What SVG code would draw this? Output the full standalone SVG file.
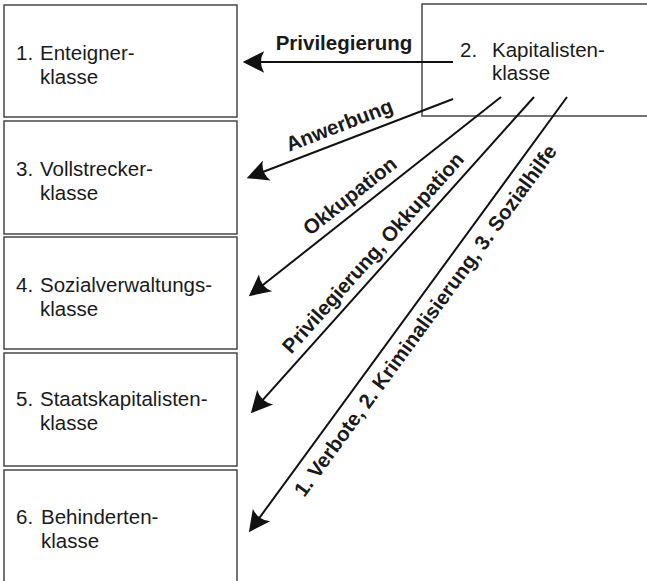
<svg xmlns="http://www.w3.org/2000/svg" width="647" height="581" viewBox="0 0 647 581">
<style>
.box{fill:#fff;stroke:#3a3a3a;stroke-width:1.4}
.t{font-family:"Liberation Sans",Arial,sans-serif;font-size:20.5px;fill:#1a1a1a}
.lbl{font-family:"Liberation Sans",Arial,sans-serif;font-size:20.5px;font-weight:bold;fill:#1a1a1a;text-anchor:middle}
.arr{fill:none;stroke:#111;stroke-width:2;marker-end:url(#ah)}
</style>
<defs>
<marker id="ah" markerUnits="userSpaceOnUse" orient="auto" refX="0" refY="0" markerWidth="30" markerHeight="30" viewBox="-20 -12 28 24" overflow="visible">
<path d="M4,0 L-16,-10 Q-10,0 -16,10 Z" fill="#111"/>
</marker>
</defs>
<rect width="647" height="581" fill="#fff"/>
<g id="n1"><rect class="box" x="4" y="5" width="233" height="112"/><text class="t" x="16" y="60">1.</text><text class="t" x="40" y="60">Enteigner-</text><text class="t" x="40" y="84">klasse</text></g>
<g id="n2"><rect class="box" x="422" y="4" width="260" height="112"/><text class="t" x="460" y="57">2.</text><text class="t" x="492" y="57">Kapitalisten-</text><text class="t" x="492" y="80">klasse</text></g>
<g id="n3"><rect class="box" x="4" y="121" width="233" height="113"/><text class="t" x="16" y="176">3.</text><text class="t" x="40" y="176">Vollstrecker-</text><text class="t" x="40" y="200">klasse</text></g>
<g id="n4"><rect class="box" x="4" y="237" width="233" height="112"/><text class="t" x="16" y="292">4.</text><text class="t" x="40" y="292">Sozialverwaltungs-</text><text class="t" x="40" y="316">klasse</text></g>
<g id="n5"><rect class="box" x="4" y="353" width="233" height="113"/><text class="t" x="16" y="406">5.</text><text class="t" x="40" y="406">Staatskapitalisten-</text><text class="t" x="40" y="430">klasse</text></g>
<g id="n6"><rect class="box" x="4" y="470" width="233" height="130"/><text class="t" x="16" y="524">6.</text><text class="t" x="41" y="524">Behinderten-</text><text class="t" x="41" y="548">klasse</text></g>
<g id="connectors">
<line class="arr" x1="453" y1="62" x2="247" y2="62"/>
<line class="arr" x1="453" y1="99" x2="250.7" y2="176.6"/>
<line class="arr" x1="501" y1="97" x2="252.1" y2="293.5"/>
<line class="arr" x1="534" y1="97" x2="253.7" y2="410"/>
<line class="arr" x1="567" y1="97" x2="251.4" y2="528.8"/>
<text class="lbl" x="344" y="50">Privilegierung</text>
<text class="lbl" transform="translate(341.8,131.6) rotate(-20.98)">Anwerbung</text>
<text class="lbl" transform="translate(354.2,201.4) rotate(-38.3)">Okkupation</text>
<text class="lbl" transform="translate(378.2,257.5) rotate(-48.2)">Privilegierung, Okkupation</text>
<text class="lbl" transform="translate(431,324.6) rotate(-53.8)">1. Verbote, 2. Kriminalisierung, 3. Sozialhilfe</text>
</g>
</svg>
